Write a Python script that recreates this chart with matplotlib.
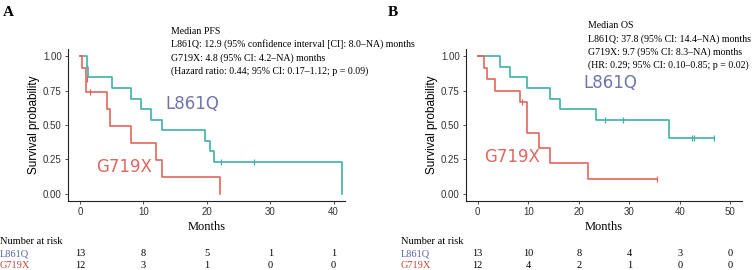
import matplotlib.pyplot as plt
from matplotlib.transforms import blended_transform_factory

# Panel A (PFS) step curves
pfs_l_t = [0, 1.05, 1.3, 5.1, 8.0, 9.6, 11.2, 12.9, 19.7, 20.5, 21.2, 41.3]
pfs_l_s = [1.0, 0.923, 0.846, 0.769, 0.692, 0.615, 0.538, 0.462, 0.385, 0.308, 0.231, 0.0]
pfs_l_cens_t = [22.3, 27.5]
pfs_l_cens_s = [0.231, 0.231]

pfs_g_t = [0, 0.35, 0.95, 1.0, 4.2, 4.8, 8.0, 12.0, 12.9, 22.1]
pfs_g_s = [1.0, 0.917, 0.833, 0.741, 0.617, 0.494, 0.370, 0.247, 0.123, 0.0]
pfs_g_cens_t = [1.05, 1.6]
pfs_g_cens_s = [0.833, 0.741]

# Panel B (OS)
os_l_t = [0, 4.4, 6.3, 9.7, 14.3, 16.2, 23.4, 37.9, 46.8]
os_l_s = [1.0, 0.923, 0.846, 0.769, 0.692, 0.615, 0.538, 0.404, 0.404]
os_l_cens_t = [25.2, 28.8, 42.4, 42.8, 46.8]
os_l_cens_s = [0.538, 0.538, 0.404, 0.404, 0.404]

os_g_t = [0, 1.3, 1.9, 3.4, 8.4, 9.7, 12.1, 14.3, 21.9, 35.4]
os_g_s = [1.0, 0.917, 0.833, 0.75, 0.667, 0.444, 0.333, 0.222, 0.111, 0.111]
os_g_cens_t = [8.8, 35.4]
os_g_cens_s = [0.667, 0.111]

pfs_ticks = [0, 10, 20, 30, 40]
pfs_risk_l = [13, 8, 5, 1, 1]
pfs_risk_g = [12, 3, 1, 0, 0]
os_ticks = [0, 10, 20, 30, 40, 50]
os_risk_l = [13, 10, 8, 4, 3, 0]
os_risk_g = [12, 4, 2, 1, 0, 0]

pfs_note = ["Median PFS",
            "L861Q: 12.9 (95% confidence interval [CI]: 8.0\u2013NA) months",
            "G719X: 4.8 (95% CI: 4.2\u2013NA) months",
            "(Hazard ratio: 0.44; 95% CI: 0.17\u20131.12; p = 0.09)"]
os_note = ["Median OS",
           "L861Q: 37.8 (95% CI: 14.4\u2013NA) months",
           "G719X: 9.7 (95% CI: 8.3\u2013NA) months",
           "(HR: 0.29; 95% CI: 0.10\u20130.85; p = 0.02)"]

TEAL = "#3fb1a6"
RED = "#e2665e"
LBL_BLUE = "#6f74ad"
RISK_BLUE = "#5a63a8"
RISK_RED = "#c9463d"
SERIF = "Liberation Serif"
SANS = "Liberation Sans"

W, H = 755, 270
fig = plt.figure(figsize=(W / 100, H / 100), dpi=100)


def fx(px):
    return px / W


def fy(py):
    return 1 - py / H


def panel(left_px, right_px, xlim, ticks, curves, labels, risk, letter, letter_x,
          note, note_x, note_y, note_dy, risk_x):
    ax = fig.add_axes([fx(left_px), fy(200.7), fx(right_px - left_px), (200.7 - 49.2) / H])
    for t, s, ct, cs, col in curves:
        ax.step(t, s, where="post", color=col, lw=1.2)
        ax.plot(ct, cs, ls="none", marker="|", ms=4, mew=0.9, color=col)
    ax.set_xlim(*xlim)
    ax.set_ylim(-0.05, 1.05)
    ax.set_xticks(ticks)
    ax.set_yticks([0, 0.25, 0.5, 0.75, 1.0])
    ax.set_yticklabels(["0.00", "0.25", "0.50", "0.75", "1.00"])
    for sp in ["top", "right"]:
        ax.spines[sp].set_visible(False)
    for sp in ["left", "bottom"]:
        ax.spines[sp].set_linewidth(0.8)
        ax.spines[sp].set_color("#222222")
    ax.tick_params(labelsize=7, length=2.5, width=0.6, colors="#333333", pad=2)
    for lab in ax.get_xticklabels() + ax.get_yticklabels():
        lab.set_family(SANS)
    ax.set_ylabel("Survival probability", fontsize=8.5, family=SANS, labelpad=2)
    ax.set_xlabel("Months", fontsize=9, family=SERIF, labelpad=3)

    for txt, x, y, col in labels:
        ax.text(x, y, txt, color=col, fontsize=12, family="DejaVu Sans",
                ha="left", va="center", transform=fig.transFigure)

    fig.text(fx(letter_x), fy(12), letter, fontsize=11, fontweight="bold",
             family=SERIF, ha="left", va="center")
    for i, line in enumerate(note):
        fig.text(fx(note_x), fy(note_y + i * note_dy), line, fontsize=7.1,
                 family=SERIF, ha="left", va="center")

    fig.text(fx(risk_x), fy(241), "Number at risk", fontsize=7.5, family=SERIF,
             ha="left", va="center")
    fig.text(fx(risk_x), fy(254), "L861Q", fontsize=7.5, family=SERIF,
             color=RISK_BLUE, ha="left", va="center")
    fig.text(fx(risk_x), fy(265), "G719X", fontsize=7.5, family=SERIF,
             color=RISK_RED, ha="left", va="center")
    tr = blended_transform_factory(ax.transData, fig.transFigure)
    for t, nl, ng in zip(ticks, risk[0], risk[1]):
        ax.text(t, fy(254), str(nl), transform=tr, fontsize=7.5, family=SERIF,
                ha="center", va="center", clip_on=False)
        ax.text(t, fy(265), str(ng), transform=tr, fontsize=7.5, family=SERIF,
                ha="center", va="center", clip_on=False)
    return ax


panel(68, 345, (-1.9, 41.8), pfs_ticks,
      [(pfs_l_t, pfs_l_s, pfs_l_cens_t, pfs_l_cens_s, TEAL),
       (pfs_g_t, pfs_g_s, pfs_g_cens_t, pfs_g_cens_s, RED)],
      [("L861Q", fx(165), fy(104), LBL_BLUE), ("G719X", fx(96), fy(167.5), RED)],
      (pfs_risk_l, pfs_risk_g), "A", 3,
      pfs_note, 171, 31, 13.5, 0)

panel(466, 742, (-2.32, 52.3), os_ticks,
      [(os_l_t, os_l_s, os_l_cens_t, os_l_cens_s, TEAL),
       (os_g_t, os_g_s, os_g_cens_t, os_g_cens_s, RED)],
      [("L861Q", fx(583), fy(83), LBL_BLUE), ("G719X", fx(484), fy(156.5), RED)],
      (os_risk_l, os_risk_g), "B", 388,
      os_note, 588, 26, 13.2, 401)

fig.savefig("out.png", dpi=100)
